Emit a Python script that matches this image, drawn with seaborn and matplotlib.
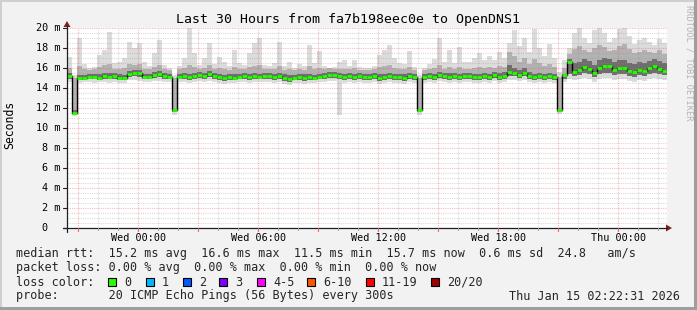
import numpy as np
import matplotlib
matplotlib.use("Agg")
import matplotlib.pyplot as plt
import seaborn as sns
from matplotlib.patches import Rectangle, Polygon
from matplotlib.lines import Line2D

# ---------------- data (15-minute steps, hours relative to Wed 00:00) ----------------
start_hour = -3.57
step_hours = 0.25

median_ms = [
    15.2, 11.5, 15.0, 15.0, 15.1, 15.1, 15.0, 15.2, 15.1, 15.2,
    15.0, 15.0, 15.4, 15.5, 15.5, 15.1, 15.1, 15.3, 15.4, 15.2,
    15.1, 11.8, 15.1, 15.2, 15.1, 15.2, 15.3, 15.2, 15.4, 15.2,
    15.1, 15.0, 15.1, 15.0, 15.1, 15.2, 15.1, 15.2, 15.1, 15.2,
    15.2, 15.1, 15.2, 15.0, 14.9, 15.0, 15.1, 15.0, 15.1, 15.0,
    15.1, 15.2, 15.3, 15.3, 15.2, 15.1, 15.2, 15.1, 15.2, 15.1,
    15.1, 15.2, 15.0, 15.1, 15.2, 15.1, 15.1, 15.0, 15.2, 15.1,
    11.8, 15.1, 15.2, 15.1, 15.3, 15.2, 15.1, 15.2, 15.1, 15.2,
    15.2, 15.1, 15.1, 15.2, 15.1, 15.3, 15.1, 15.2, 15.6, 15.5,
    15.3, 15.5, 15.2, 15.1, 15.2, 15.1, 15.2, 15.1, 11.8, 15.3,
    16.6, 15.6, 15.8, 16.1, 15.9, 15.5, 16.0, 16.2, 16.2, 15.8,
    16.0, 16.0, 15.7, 15.6, 15.8, 15.7, 16.0, 16.2, 15.9, 15.7,
]

smoke_min = [
    14.6, 11.2, 14.5, 14.6, 14.6, 14.5, 14.6, 14.6, 14.5, 14.6,
    14.5, 14.5, 14.8, 14.8, 14.7, 14.6, 14.6, 14.7, 14.7, 14.6,
    14.6, 11.3, 14.6, 14.6, 14.5, 14.6, 14.7, 14.6, 14.7, 14.6,
    14.5, 14.4, 14.5, 14.5, 14.6, 14.6, 14.5, 14.6, 14.6, 14.6,
    14.6, 14.5, 14.6, 14.4, 14.3, 14.5, 14.5, 14.4, 14.5, 14.5,
    14.6, 14.6, 14.7, 14.7, 11.3, 14.5, 14.6, 14.5, 14.6, 14.5,
    14.5, 14.6, 14.4, 14.5, 14.6, 14.5, 14.5, 14.4, 14.6, 14.5,
    11.3, 14.5, 14.6, 14.5, 14.7, 14.6, 14.5, 14.6, 14.5, 14.6,
    14.6, 14.5, 14.5, 14.6, 14.5, 14.7, 14.5, 14.6, 14.8, 14.8,
    14.7, 14.8, 14.6, 14.5, 14.6, 14.5, 14.6, 14.5, 11.4, 14.6,
    14.9, 14.8, 14.9, 15.0, 14.9, 14.6, 14.9, 15.0, 15.0, 14.8,
    14.9, 14.9, 14.7, 14.6, 14.8, 14.7, 14.9, 15.0, 14.9, 14.8,
]

smoke_q1 = [
    14.9, 11.5, 14.8, 14.8, 14.9, 14.9, 14.8, 14.9, 14.9, 14.9,
    14.8, 14.8, 15.1, 15.2, 15.1, 14.9, 14.9, 15.0, 15.1, 14.9,
    14.9, 11.6, 14.9, 14.9, 14.8, 14.9, 15.0, 14.9, 15.1, 14.9,
    14.8, 14.7, 14.8, 14.8, 14.9, 14.9, 14.8, 14.9, 14.9, 14.9,
    14.9, 14.8, 14.9, 14.7, 14.6, 14.8, 14.8, 14.7, 14.8, 14.8,
    14.9, 14.9, 15.0, 15.0, 14.9, 14.8, 14.9, 14.8, 14.9, 14.8,
    14.8, 14.9, 14.7, 14.8, 14.9, 14.8, 14.8, 14.7, 14.9, 14.8,
    11.6, 14.8, 14.9, 14.8, 15.0, 14.9, 14.8, 14.9, 14.8, 14.9,
    14.9, 14.8, 14.8, 14.9, 14.8, 15.0, 14.8, 14.9, 15.2, 15.2,
    15.0, 15.2, 14.9, 14.8, 14.9, 14.8, 14.9, 14.8, 11.6, 14.9,
    15.4, 15.2, 15.3, 15.5, 15.4, 15.1, 15.4, 15.5, 15.5, 15.3,
    15.4, 15.4, 15.2, 15.1, 15.3, 15.2, 15.4, 15.5, 15.4, 15.3,
]

smoke_q3 = [
    15.5, 11.8, 15.3, 15.3, 15.4, 15.4, 15.4, 15.5, 15.5, 15.5,
    15.4, 15.3, 15.7, 15.8, 15.8, 15.4, 15.4, 15.6, 15.7, 15.5,
    15.4, 11.9, 15.4, 15.5, 15.4, 15.5, 15.6, 15.5, 15.7, 15.5,
    15.4, 15.3, 15.4, 15.4, 15.4, 15.5, 15.4, 15.5, 15.4, 15.5,
    15.5, 15.4, 15.5, 15.4, 15.3, 15.3, 15.4, 15.4, 15.4, 15.3,
    15.4, 15.5, 15.6, 15.6, 15.5, 15.4, 15.5, 15.4, 15.5, 15.4,
    15.4, 15.5, 15.4, 15.4, 15.5, 15.4, 15.4, 15.4, 15.5, 15.4,
    11.9, 15.4, 15.5, 15.4, 15.6, 15.5, 15.5, 15.5, 15.4, 15.5,
    15.5, 15.4, 15.4, 15.5, 15.4, 15.6, 15.5, 15.6, 16.3, 16.0,
    15.8, 16.0, 15.6, 15.4, 15.5, 15.4, 15.5, 15.4, 11.9, 15.4,
    16.9, 16.5, 16.6, 16.9, 16.7, 16.3, 16.8, 17.0, 16.9, 16.6,
    16.8, 16.8, 16.5, 16.4, 16.6, 16.5, 16.7, 16.9, 16.7, 16.5,
]

smoke_upper = [
    16.0, 15.0, 16.2, 15.9, 15.8, 15.9, 16.1, 16.3, 16.4, 15.9,
    15.9, 16.0, 16.4, 16.3, 16.4, 15.9, 15.9, 16.1, 16.3, 15.9,
    15.8, 15.0, 15.9, 16.0, 16.3, 16.1, 15.9, 16.0, 16.3, 15.9,
    16.0, 15.9, 15.8, 16.1, 15.9, 15.9, 16.1, 16.2, 16.3, 15.9,
    15.9, 15.9, 16.2, 15.8, 15.9, 15.8, 15.9, 15.8, 16.2, 15.9,
    16.0, 15.9, 16.0, 15.9, 15.9, 15.9, 15.9, 16.0, 15.8, 15.8,
    15.8, 15.9, 16.1, 16.2, 16.3, 16.0, 15.9, 15.9, 16.1, 15.8,
    15.0, 15.8, 15.9, 16.0, 16.3, 15.9, 16.1, 15.9, 16.1, 15.9,
    15.9, 16.0, 16.1, 16.0, 16.1, 16.0, 16.2, 16.1, 17.6, 17.2,
    16.6, 17.0, 16.4, 16.9, 16.5, 16.2, 16.4, 16.1, 15.1, 16.0,
    17.4, 17.9, 18.2, 17.8, 17.6, 18.0, 18.3, 18.1, 17.7, 17.8,
    18.2, 18.4, 17.9, 17.5, 17.6, 17.8, 17.6, 17.5, 17.8, 17.4,
]

smoke_max = [
    17.1, 15.3, 19.0, 16.4, 16.0, 16.1, 17.3, 17.8, 19.6, 16.5,
    16.6, 17.0, 18.6, 18.0, 18.5, 16.6, 16.2, 17.5, 18.8, 16.3,
    16.0, 15.3, 16.2, 17.0, 20.0, 17.5, 16.3, 17.0, 18.5, 16.4,
    17.1, 16.6, 16.2, 17.8, 16.5, 16.3, 17.5, 18.5, 19.0, 16.3,
    16.2, 16.5, 18.6, 16.2, 16.6, 16.0, 16.4, 16.2, 18.3, 16.5,
    17.7, 16.2, 16.0, 16.1, 16.6, 16.8, 16.2, 16.8, 16.1, 16.0,
    16.0, 16.2, 17.3, 17.8, 18.3, 17.0, 16.5, 16.4, 17.7, 16.1,
    15.3, 16.0, 16.4, 16.9, 19.0, 16.6, 17.8, 16.5, 18.1, 16.6,
    16.6, 17.0, 17.5, 16.8, 17.2, 16.8, 17.6, 17.0, 18.5, 19.8,
    18.2, 19.0, 17.6, 19.9, 18.0, 17.2, 18.4, 17.0, 15.6, 16.8,
    18.0, 19.5, 20.0, 19.0, 18.5, 19.8, 20.0, 19.5, 18.6, 19.0,
    19.9, 20.0, 19.2, 18.4, 18.8, 19.0, 18.6, 18.3, 18.9, 18.5,
]

x_tick_hours = [0, 6, 12, 18, 24]
x_tick_labels = ["Wed 00:00", "Wed 06:00", "Wed 12:00", "Wed 18:00", "Thu 00:00"]
y_ticks = [0, 2, 4, 6, 8, 10, 12, 14, 16, 18, 20]
y_tick_labels = ["0", "2 m", "4 m", "6 m", "8 m", "10 m", "12 m", "14 m", "16 m", "18 m", "20 m"]

title = "Last 30 Hours from fa7b198eec0e to OpenDNS1"
legend_lines = [
    "median rtt:  15.2 ms avg  16.6 ms max  11.5 ms min  15.7 ms now  0.6 ms sd  24.8   am/s",
    "packet loss: 0.00 % avg  0.00 % max  0.00 % min  0.00 % now",
]
loss_labels = ["0", "1", "2", "3", "4-5", "6-10", "11-19", "20/20"]
loss_colors = ["#26ff00", "#00b8ff", "#0059ff", "#7e00ff", "#ff00ff", "#ff5500", "#ff0000", "#a00000"]
probe_text = "probe:       20 ICMP Echo Pings (56 Bytes) every 300s"
date_text = "Thu Jan 15 02:22:31 2026"

# ---------------- figure ----------------
sns.set_theme(style="white")
plt.rcParams["font.family"] = ["DejaVu Sans Mono"]

W, H = 697, 310
BG = "#f2f2f2"
fig = plt.figure(figsize=(W / 100, H / 100), dpi=100, facecolor=BG)


def fx(px):
    return px / W


def fy(py):
    return 1 - py / H


ax = fig.add_axes([fx(67), fy(228), 600 / W, 200 / H])
ax.set_facecolor("white")
n = len(median_ms)
x0 = start_hour
x1 = start_hour + n * step_hours
ax.set_xlim(x0, x1)
ax.set_ylim(0, 20)
for s in ax.spines.values():
    s.set_visible(False)
ax.set_xticks([])
ax.set_yticks([])

edges = start_hour + step_hours * np.arange(n + 1)


def ext(a):
    a = list(a)
    return np.array(a + [a[-1]])


ax.fill_between(edges, ext(smoke_min), ext(smoke_max), step="post",
                color="#dcdcdc", lw=0, zorder=1)
ax.fill_between(edges, ext(smoke_q1), ext(smoke_upper), step="post",
                color="#b2b2b2", lw=0, zorder=2)
ax.fill_between(edges, ext(smoke_q1), ext(smoke_q3), step="post",
                color="#6e6e6e", lw=0, zorder=3)

# grid (on top of smoke, like rrdtool)
major_c = (0.95, 0.35, 0.35, 0.42)
minor_c = (0.56, 0.56, 0.56, 0.32)
for h in range(-3, 27):
    c = major_c if h % 3 == 0 else minor_c
    ax.axvline(h, color=c, lw=0.8, ls=(0, (1, 1)), zorder=4)
for k in range(1, 41):
    v = k * 0.5
    c = major_c if k % 4 == 0 else minor_c
    ax.axhline(v, color=c, lw=0.8, ls=(0, (1, 1)), zorder=4)

# median line: black step + green segments
sns.lineplot(x=edges, y=ext(median_ms), drawstyle="steps-post", color="#000000",
             lw=1.0, ax=ax, zorder=5)
ax.hlines(median_ms, edges[:-1], edges[1:], colors="#26ff00", lw=2.0, zorder=6)

# axes lines & arrows (figure pixel coords)
axis_c = "#1f1f1f"
arrow_c = "#801f1f"
fig.add_artist(Line2D([fx(63), fx(667)], [fy(228), fy(228)], color=axis_c, lw=0.9))
fig.add_artist(Line2D([fx(67), fx(67)], [fy(232), fy(26)], color=axis_c, lw=0.9))
fig.add_artist(Polygon([[fx(666), fy(224.5)], [fx(672), fy(228)], [fx(666), fy(231.5)]],
                       closed=True, color=arrow_c, lw=0))
fig.add_artist(Polygon([[fx(63.5), fy(27)], [fx(67), fy(21)], [fx(70.5), fy(27)]],
                       closed=True, color=arrow_c, lw=0))

# x ticks
for h in range(-3, 27):
    px = 67 + (h - x0) * 20
    if h % 3 == 0:
        fig.add_artist(Line2D([fx(px), fx(px)], [fy(228), fy(231)], color=(0.9, 0.4, 0.4), lw=0.8))
    else:
        fig.add_artist(Line2D([fx(px), fx(px)], [fy(228), fy(230)], color="#a8a8a8", lw=0.8))
for h, lab in zip(x_tick_hours, x_tick_labels):
    px = 67 + (h - x0) * 20
    fig.text(fx(px), fy(238), lab, ha="center", va="center", fontsize=7.3, color="black")

# y ticks
for v, lab in zip(y_ticks, y_tick_labels):
    py = 228 - v * 10
    fig.add_artist(Line2D([fx(63), fx(67)], [fy(py), fy(py)], color=axis_c, lw=0.8))
    if v == 0:
        fig.text(fx(48), fy(py), lab, ha="right", va="center", fontsize=7.3, color="black")
    else:
        fig.text(fx(60.5), fy(py), lab, ha="right", va="center", fontsize=7.3, color="black")

# title and labels
fig.text(fx(348), fy(19), title, ha="center", va="center", fontsize=9.5, color="black")
fig.text(fx(10), fy(125), "Seconds", ha="center", va="center", rotation=90,
         fontsize=8.3, color="black")
fig.text(fx(689), fy(5), "RRDTOOL / TOBI OETIKER", ha="center", va="top", rotation=270,
         fontsize=6.2, color="#b4b4b4")

# legend text
fig.text(fx(16), fy(254), legend_lines[0], ha="left", va="center", fontsize=8.5)
fig.text(fx(16), fy(268), legend_lines[1], ha="left", va="center", fontsize=8.5)
fig.text(fx(16), fy(282), "loss color:", ha="left", va="center", fontsize=8.5)
box_x = [108, 146, 183, 219, 257, 307, 366, 431]
for bx, lab, col in zip(box_x, loss_labels, loss_colors):
    fig.add_artist(Rectangle((fx(bx), fy(286)), 8 / W, 8 / H, facecolor=col,
                             edgecolor="black", lw=0.8))
    fig.text(fx(bx + 16), fy(282), lab, ha="left", va="center", fontsize=8.5)
fig.text(fx(16), fy(296), probe_text, ha="left", va="center", fontsize=8.5)
fig.text(fx(680), fy(296), date_text, ha="right", va="center", fontsize=8.5)

# 3D frame
fig.add_artist(Rectangle((0, fy(2)), 1, 2 / H, facecolor="#cfcfcf", lw=0))
fig.add_artist(Rectangle((0, 0), 2 / W, 1, facecolor="#cfcfcf", lw=0))
fig.add_artist(Rectangle((fx(694), 0), 3 / W, 1, facecolor="#9e9e9e", lw=0))
fig.add_artist(Rectangle((0, 0), 1, 3 / H, facecolor="#9e9e9e", lw=0))

fig.savefig("out.png", dpi=100, facecolor=BG)
